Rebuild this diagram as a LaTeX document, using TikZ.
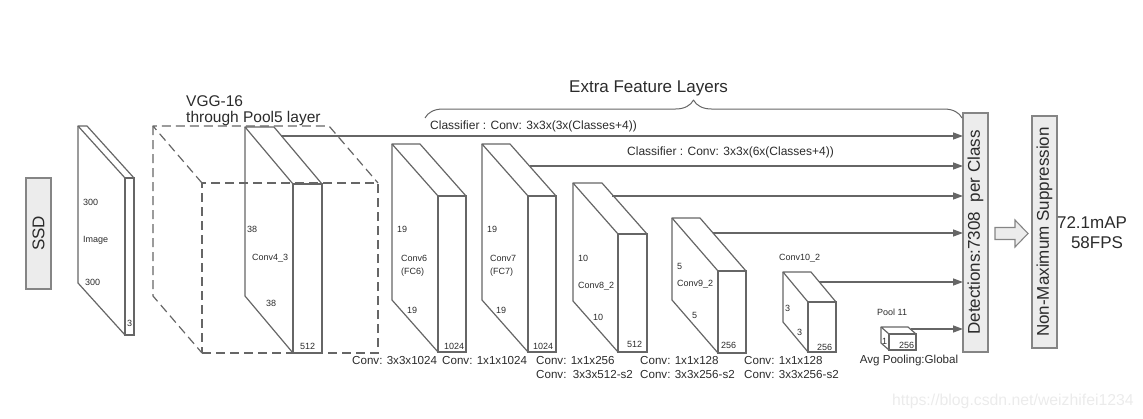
\documentclass[tikz,border=0pt]{standalone}
\usepackage{fontspec}
\setmainfont{Liberation Sans}
\usetikzlibrary{arrows.meta,decorations.pathreplacing}
\definecolor{lc}{HTML}{666666}
\definecolor{tc}{HTML}{2B2B2B}
\definecolor{bf}{HTML}{ECECEC}
\definecolor{bl}{HTML}{858585}
\tikzset{
  face/.style={draw=lc, line width=1.2pt, rectangle, inner sep=0pt, outer sep=0pt},
  edge/.style={draw=lc, line width=1.2pt, line join=round},
  dash8/.style={dash pattern=on 9pt off 5pt},
  small/.style={font=\fontsize{9}{10}\selectfont, text=tc, inner sep=0pt, anchor=west},
  mid/.style={font=\fontsize{12}{14}\selectfont, text=tc, inner sep=0pt, anchor=west},
  bot/.style={font=\fontsize{11.6}{14}\selectfont, text=tc, inner sep=0pt, anchor=west},
  big/.style={font=\fontsize{17}{20}\selectfont, text=tc, inner sep=0pt},
  arr/.style={draw=lc, line width=1.4pt, -{Triangle[length=10pt,width=7pt]}},
  sidebox/.style={draw=bl, fill=bf, line width=1.2pt, rectangle, inner sep=0pt, outer sep=0pt,
    font=\fontsize{17}{20}\selectfont, text=tc},
}
% optional style, name, front-left, front-right, front-top, front-bottom, dx, dy
\newcommand{\slab}[8][]{%
  \node[face,#1,minimum width={(#4-#3)*1pt},minimum height={(#6-#5)*1pt}] (#2) at ({(#3+#4)/2},{(#5+#6)/2}) {};
  \draw[edge,#1] (#2.north west) -- ++(-#7,-#8) -- ++({#4-#3},0) -- (#2.north east);
  \draw[edge,#1] (#2.north west) ++(-#7,-#8) -- ++(0,{#6-#5}) -- (#2.south west);
}
\begin{document}
\begin{tikzpicture}[x=1pt,y=-1pt]
\useasboundingbox (0,0) rectangle (1143,418);

% side boxes
\node[sidebox, minimum width=25pt, minimum height=111pt] (ssd) at (38.5,233.5) {\rotatebox{90}{SSD}};
\node[sidebox, minimum width=25pt, minimum height=239pt] (det) at (975.5,232.5) {\rotatebox{90}{Detections:7308\ \ per Class}};
\node[sidebox, minimum width=25pt, minimum height=232pt] (nms) at (1044.5,232) {\rotatebox{90}{Non-Maximum Suppression}};

% VGG dashed cube
\slab[dash8]{vgg}{202}{378}{183}{353}{49}{57}
\node[big, anchor=west, font=\fontsize{15.5}{18}\selectfont] (vggt1) at (186,101) {VGG-16};
\node[big, anchor=west, font=\fontsize{15.5}{18}\selectfont] (vggt2) at (186,118) {through Pool5 layer};

% layers
\slab{img}{125}{134}{178}{335}{47}{52}
\node[small] (i1) at (83,202) {300};
\node[small] (i2) at (83,240) {Image};
\node[small] (i3) at (85,282) {300};
\node[small] (i4) at (127,323) {3};

\slab{c4}{293}{322}{184}{353}{48}{57}
\node[small] (c4a) at (247,229) {38};
\node[small] (c4b) at (252,258) {Conv4\_3};
\node[small] (c4c) at (266,303) {38};
\node[small] (c4d) at (300,346) {512};

\slab{c6}{438}{466}{196}{352}{46}{52}
\node[small] (c6a) at (397,229) {19};
\node[small] (c6b) at (401,258) {Conv6};
\node[small] (c6c) at (401,272) {(FC6)};
\node[small] (c6d) at (407,310) {19};
\node[small] (c6e) at (444,346) {1024};

\slab{c7}{528}{556}{196}{352}{46}{52}
\node[small] (c7a) at (487,229) {19};
\node[small] (c7b) at (490,258) {Conv7};
\node[small] (c7c) at (490,272) {(FC7)};
\node[small] (c7d) at (496,310) {19};
\node[small] (c7e) at (533,346) {1024};

\slab{c8}{618}{647}{234}{352}{45}{51}
\node[small] (c8a) at (578,258) {10};
\node[small] (c8b) at (578,286) {Conv8\_2};
\node[small] (c8c) at (593,317) {10};
\node[small] (c8d) at (627,344) {512};

\slab{c9}{718}{746}{271}{353}{46}{53}
\node[small] (c9a) at (677,266) {5};
\node[small] (c9b) at (677,284) {Conv9\_2};
\node[small] (c9c) at (692,315) {5};
\node[small] (c9d) at (721,345) {256};

\slab{c10}{808}{836}{302}{352}{25}{30}
\node[small] (c10a) at (779,258) {Conv10\_2};
\node[small] (c10b) at (785,308) {3};
\node[small] (c10c) at (797,332) {3};
\node[small] (c10d) at (817,347) {256};

\slab{p11}{889}{916}{334}{350}{8}{7}
\node[small] (p11a) at (877,312) {Pool 11};
\node[small] (p11b) at (882,341) {1};
\node[small] (p11c) at (899,345) {256};

% bottom labels
\node[bot] (b1) at (352,361) {Conv: 3x3x1024};
\node[bot] (b2) at (442,361) {Conv: 1x1x1024};
\node[bot] (b3) at (536,361) {Conv: 1x1x256};
\node[bot] (b4) at (536,375) {Conv:\ \ 3x3x512-s2};
\node[bot] (b5) at (640,361) {Conv: 1x1x128};
\node[bot] (b6) at (640,375) {Conv: 3x3x256-s2};
\node[bot] (b7) at (744,361) {Conv: 1x1x128};
\node[bot] (b8) at (744,375) {Conv: 3x3x256-s2};
\node[bot, anchor=center] (b9) at (909,360) {Avg Pooling:Global};

% extra feature layers brace
\draw[edge, line width=1pt, decorate, decoration={brace, amplitude=18pt}] (425,118) -- (962,118);
\node[big, anchor=west] (efl) at (569,88) {Extra Feature Layers};
\node[mid] (cl1) at (430,126) {Classifier : Conv: 3x3x(3x(Classes+4))};
\node[mid] (cl2) at (627,152) {Classifier : Conv: 3x3x(6x(Classes+4))};

% connectors
\coordinate (s1) at (281,136);
\coordinate (s2) at (530,166);
\coordinate (s3) at (612,196);
\coordinate (s4) at (713,233);
\coordinate (s5) at (819,282);
\coordinate (s6) at (911,329);
\draw[arr] (s1) -- (s1 -| det.west);
\draw[arr] (s2) -- (s2 -| det.west);
\draw[arr] (s3) -- (s3 -| det.west);
\draw[arr] (s4) -- (s4 -| det.west);
\draw[arr] (s5) -- (s5 -| det.west);
\draw[arr] (s6) -- (s6 -| det.west);

% hollow arrow
\draw[draw=bl, fill=bf, line width=1.1pt, line join=miter]
  (995,227.5) -- (1015,227.5) -- (1015,220) -- (1028,233.5) -- (1015,247) -- (1015,239.5) -- (995,239.5) -- cycle;

% results
\node[big] (map) at (1092,223) {72.1mAP};
\node[big] (fps) at (1097,243) {58FPS};

% watermark
\node[inner sep=0pt, anchor=west, text=black!8, font=\fontsize{15.8}{18}\selectfont] (wm) at (892,401) {https://blog.csdn.net/weizhifei1234};
\end{tikzpicture}
\end{document}
